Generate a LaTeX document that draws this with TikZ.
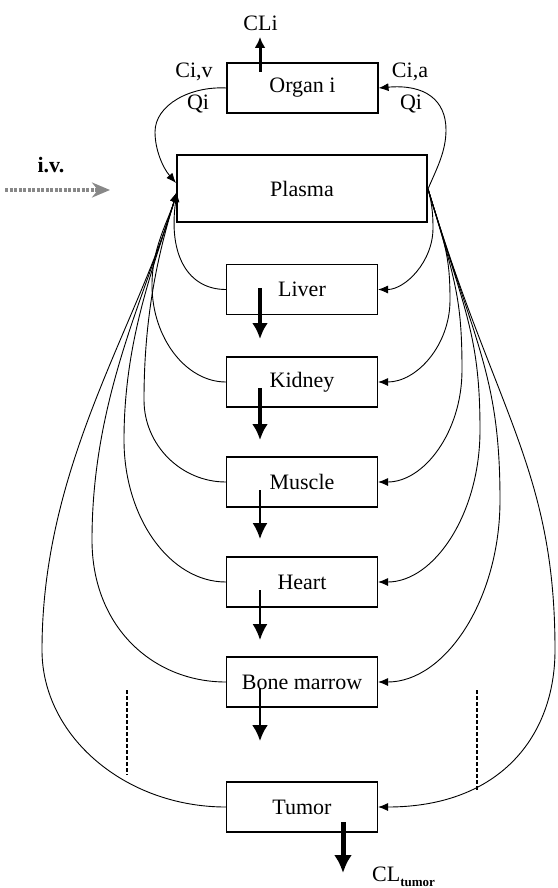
\documentclass[tikz,border=0pt]{standalone}
\usepackage{fontspec}
\setmainfont{Liberation Serif}
\usetikzlibrary{arrows.meta}
\begin{document}
\begin{tikzpicture}[x=1pt,y=-1pt,
  box/.style={draw,line width=1.1pt,minimum width=151pt,minimum height=50pt,inner sep=0pt,font=\fontsize{22}{24}\selectfont},
  lbl/.style={inner sep=0pt,font=\fontsize{22}{24}\selectfont},
  flow/.style={line width=0.9pt,-{Latex[length=10pt,width=8pt]}},
  thickdown/.style={line width=3.5pt,-{Latex[length=16pt,width=16pt]}},
  thindown/.style={line width=2pt,-{Latex[length=16pt,width=15pt]}},
  fatdown/.style={line width=5pt,-{Latex[length=18pt,width=18pt]}},
  upclear/.style={line width=3pt,-{Latex[length=11pt,width=11pt]}},
  ivarrow/.style={line width=3.5pt,gray!45!black!60,dash pattern=on 3pt off 1.5pt,-{Stealth[length=18pt,width=15pt]}},
  dashmark/.style={line width=1.2pt,dash pattern=on 4pt off 2pt}]
\useasboundingbox (0,0) rectangle (557,888);

% boxes
\node[box] (organ) at (302.5,88) {Organ i};
\node[box,minimum width=250pt,minimum height=67pt] (plasma) at (302,188.5) {Plasma};
\node[box] (liver) at (302,289.5) {Liver};
\node[box] (kidney) at (302,382) {Kidney};
\node[box] (muscle) at (302,482) {Muscle};
\node[box] (heart) at (302,582) {Heart};
\node[box] (bm) at (302,682) {Bone marrow};
\node[box] (tumor) at (302,807) {Tumor};

% labels
\node[lbl] (cli) at (260.5,23) {CLi};
\node[lbl] (civ) at (194,72) {Ci,v};
\node[lbl] (qiv) at (198,104) {Qi};
\node[lbl] (cia) at (410,72) {Ci,a};
\node[lbl] (qia) at (411,104) {Qi};
\node[lbl,font=\fontsize{22}{24}\selectfont\bfseries] (iv) at (51,165) {i.v.};
\node[lbl,anchor=base west] (cltumor) at (372,881) {CL\raisebox{-5pt}{\fontsize{13}{13}\selectfont\bfseries tumor}};

% junction points
\coordinate (PL) at (177,192);
\coordinate (PLo) at (176,183);
\coordinate (PR) at (428,189);

% i.v. input
\coordinate (ivs) at (5,190);
\coordinate (ive) at (110,190);
\draw[ivarrow] (ivs) -- (ive);

% clearance arrows
\coordinate (c0a) at (260,72);  \coordinate (c0b) at (260,37);
\coordinate (c1a) at (260,288); \coordinate (c1b) at (260,339);
\coordinate (c2a) at (260,388); \coordinate (c2b) at (260,440);
\coordinate (c3a) at (260,490); \coordinate (c3b) at (260,539);
\coordinate (c4a) at (260,590); \coordinate (c4b) at (260,640);
\coordinate (c5a) at (260,688); \coordinate (c5b) at (260,741);
\coordinate (c6a) at (343,822); \coordinate (c6b) at (343,873);
\draw[upclear] (c0a) -- (c0b);
\draw[thickdown] (c1a) -- (c1b);
\draw[thickdown] (c2a) -- (c2b);
\draw[thindown] (c3a) -- (c3b);
\draw[thindown] (c4a) -- (c4b);
\draw[line width=2.6pt,-{Latex[length=16pt,width=16pt]}] (c5a) -- (c5b);
\draw[fatdown] (c6a) -- (c6b);

% organ i loop
\draw[flow] (organ.west) .. controls (190,86) and (155,105) .. (155,132) .. controls (155,150) and (163,168) .. (PLo);
\draw[flow] (PR) .. controls (436,170) and (446,152) .. (446,130) .. controls (446,100) and (425,84) .. (organ.east);

% venous returns (left)
\draw[flow] (liver.west) .. controls (188,289.5) and (168,255) .. (PL);
\draw[flow] (kidney.west) .. controls (186,382) and (152,338) .. (152,285) .. controls (152,247) and (169,219) .. (PL);
\draw[flow] (muscle.west) .. controls (181,482) and (144,445) .. (144,400) .. controls (144,316) and (158,254) .. (PL);
\draw[flow] (heart.west) .. controls (170,582) and (124,518) .. (124,440) .. controls (124,340) and (154,266) .. (PL);
\draw[flow] (bm.west) .. controls (153,682) and (92,627) .. (92,540) .. controls (92,400) and (145,296) .. (PL);
\draw[flow] (tumor.west) .. controls (125,807) and (42,736) .. (42,650) .. controls (42,466) and (136,329) .. (PL);

% arterial supply (right)
\draw[flow] (PR) .. controls (431,200) and (433,210) .. (433,228) .. controls (433,262) and (405,289.5) .. (liver.east);
\draw[flow] (PR) .. controls (445,244) and (450,256) .. (450,300) .. controls (450,345) and (417,382) .. (kidney.east);
\draw[flow] (PR) .. controls (455,279) and (462,298) .. (462,370) .. controls (462,432) and (424,482) .. (muscle.east);
\draw[flow] (PR) .. controls (464,309) and (480,334) .. (480,430) .. controls (480,514) and (434,582) .. (heart.east);
\draw[flow] (PR) .. controls (475,344) and (500,376) .. (500,500) .. controls (500,600) and (445,682) .. (bm.east);
\draw[flow] (PR) .. controls (496,414) and (555,470) .. (555,650) .. controls (555,736) and (500,807) .. (tumor.east);

% ellipsis marks
\coordinate (dl1) at (127,690); \coordinate (dl2) at (127,775);
\coordinate (dr1) at (477,690); \coordinate (dr2) at (477,790);
\draw[dashmark] (dl1) -- (dl2);
\draw[dashmark] (dr1) -- (dr2);
\end{tikzpicture}
\end{document}
